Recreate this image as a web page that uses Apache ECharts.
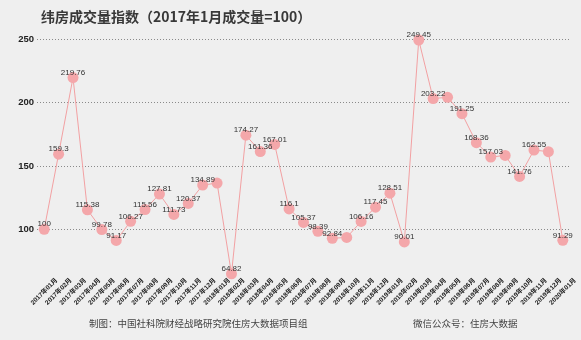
<!DOCTYPE html>
<html>
<head>
<meta charset="utf-8">
<script src="https://cdn.jsdelivr.net/npm/echarts@6/dist/echarts.min.js"></script>
<style>
  html, body { margin: 0; padding: 0; background: #efefef; }
  #chart { width: 581px; height: 340px; }
</style>
</head>
<body>
<div id="chart"></div>
<script>
// Monthly index of transaction volume, Jan 2017 = 100
const months = [
  '2017年01月', '2017年02月', '2017年03月', '2017年04月', '2017年05月', '2017年06月',
  '2017年07月', '2017年08月', '2017年09月', '2017年10月', '2017年11月', '2017年12月',
  '2018年01月', '2018年02月', '2018年03月', '2018年04月', '2018年05月', '2018年06月',
  '2018年07月', '2018年08月', '2018年09月', '2018年10月', '2018年11月', '2018年12月',
  '2019年01月', '2019年02月', '2019年03月', '2019年04月', '2019年05月', '2019年06月',
  '2019年07月', '2019年08月', '2019年09月', '2019年10月', '2019年11月', '2019年12月',
  '2020年01月'
];
const indexValues = [
  100, 159.3, 219.76, 115.38, 99.78, 91.17,
  106.27, 115.56, 127.81, 111.73, 120.37, 134.89,
  136.5, 64.82, 174.27, 161.36, 167.01, 116.1,
  105.37, 98.39, 92.84, 93.6, 106.16, 117.45,
  128.51, 90.01, 249.45, 203.22, 204.2, 191.25,
  168.36, 157.03, 158.3, 141.76, 162.55, 161.3,
  91.29
];
// months whose points carry no value label
const unlabelledMonths = ['2018年01月', '2018年10月', '2019年05月', '2019年09月', '2019年12月'];
const yTicks = [100, 150, 200, 250];

const titleText = '纬房成交量指数（2017年1月成交量=100）';
const sourceText = '制图：中国社科院财经战略研究院住房大数据项目组';
const wechatText = '微信公众号：住房大数据';

const chart = echarts.init(document.getElementById('chart'), null, { renderer: 'canvas' });

chart.setOption({
  backgroundColor: '#efefef',
  animation: false,
  title: {
    text: titleText,
    left: 36,
    top: 5,
    textStyle: {
      fontFamily: '"Noto Sans CJK SC", sans-serif',
      fontSize: 14,
      fontWeight: 'bold',
      color: '#383838'
    }
  },
  grid: { left: 37, right: 11, top: 39.3, bottom: 47.4 },
  xAxis: {
    type: 'category',
    data: months,
    boundaryGap: true,
    axisLine: { show: false },
    axisTick: { show: false },
    splitLine: { show: false },
    axisLabel: {
      interval: 0,
      rotate: 45,
      align: 'center',
      verticalAlign: 'middle',
      margin: -1,
      fontFamily: '"Liberation Sans", "Noto Sans CJK SC", sans-serif',
      fontSize: 6.5,
      fontWeight: 'bold',
      color: '#222'
    }
  },
  yAxis: {
    type: 'value',
    min: 50,
    max: 250,
    interval: 50,
    axisLine: { show: false },
    axisTick: { show: false },
    axisLabel: {
      margin: 3,
      fontFamily: '"Liberation Sans", Arial, sans-serif',
      fontSize: 9.5,
      fontWeight: 'bold',
      color: '#222',
      formatter: v => (yTicks.indexOf(v) >= 0 ? String(v) : '')
    },
    splitLine: {
      show: true,
      showMinLine: false,
      lineStyle: { color: '#8a8a8a', type: [1, 2], width: 1 }
    }
  },
  series: [{
    type: 'line',
    data: indexValues,
    symbol: 'circle',
    symbolSize: 11,
    lineStyle: { color: '#f2a0a2', width: 1 },
    itemStyle: { color: '#f4a7aa' },
    label: {
      show: true,
      position: 'inside',
      offset: [0, -5],
      fontFamily: '"Liberation Sans", Arial, sans-serif',
      fontSize: 8,
      color: '#333',
      formatter: p => (unlabelledMonths.indexOf(p.name) >= 0 ? '' : String(p.value))
    }
  }],
  graphic: [
    {
      type: 'text',
      left: 89,
      top: 319,
      style: {
        text: sourceText,
        fontFamily: '"Noto Sans CJK SC", serif',
        fontSize: 9.5,
        fill: '#444'
      }
    },
    {
      type: 'text',
      left: 413,
      top: 319,
      style: {
        text: wechatText,
        fontFamily: '"Noto Sans CJK SC", serif',
        fontSize: 9.5,
        fill: '#444'
      }
    }
  ]
});
</script>
</body>
</html>
